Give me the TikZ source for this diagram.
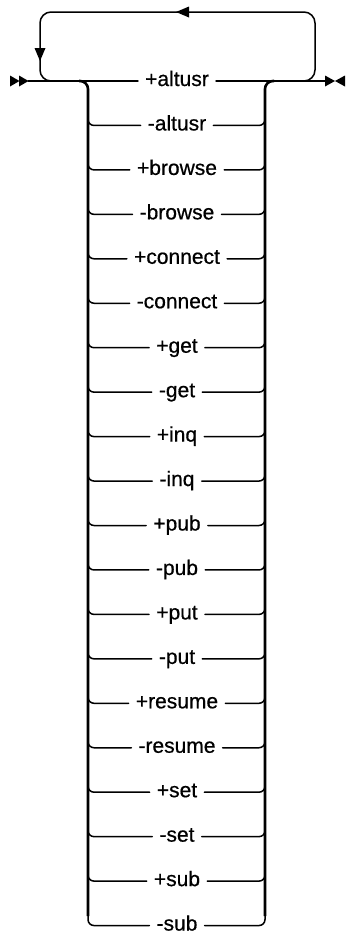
\documentclass[tikz,border=0pt]{standalone}
\usepackage{fontspec}
\setmainfont{Liberation Sans}[FakeBold=0.6]
\usetikzlibrary{calc}

\begin{document}
\begin{tikzpicture}[x=1pt, y=-1pt,
    rail/.style={line width=1.5pt, line cap=round},
    bar/.style={line width=2.6pt},
    opt/.style={font=\fontsize{21}{24}\selectfont, inner sep=7pt, text height=12pt, text depth=2pt}]
    \useasboundingbox (0,0) rectangle (346,935);

    % Options, one per row
    \foreach \lbl [count=\i from 0] in {+altusr,-altusr,+browse,-browse,+connect,-connect,+get,-get,+inq,-inq,+pub,-pub,+put,-put,+resume,-resume,+set,-set,+sub,-sub} {
        \pgfmathsetmacro{\y}{81+44.45*\i}
        \node[opt] (o\i) at (177,\y) {\lbl};
    }

    % Ends of the main line
    \coordinate (start) at (28,81);
    \coordinate (end) at (325,81);
    \fill (10,75.5) -- (19.5,81) -- (10,86.5) -- cycle;
    \fill (19,75.5) -- (28.5,81) -- (19,86.5) -- cycle;
    \fill (325,75.5) -- (335,81) -- (325,86.5) -- cycle;
    \fill (345,75.5) -- (335,81) -- (345,86.5) -- cycle;

    % Main line
    \draw[rail] (start) -- (o0.west);
    \draw[rail] (o0.east) -- (end);

    % Repeat loop
    \draw[rail, rounded corners=11pt] (302,81) -| (315,12) -| (40,81) -- (58,81);
    \fill (176,12) -- (189,6.5) -- (189,17.5) -- cycle;
    \fill (40,61) -- (34.5,48) -- (45.5,48) -- cycle;

    % Side bars
    \draw[bar, rounded corners=8pt] (79,81) -| (88,916);
    \draw[bar, rounded corners=8pt] (274,81) -| (265,916);

    % Branches into the bars
    \foreach \i in {1,...,19} {
        \pgfmathsetmacro{\y}{81+44.45*\i}
        \draw[rail, rounded corners=6pt] (88,\y-14) |- (o\i.west);
        \draw[rail, rounded corners=6pt] (o\i.east) -| (265,\y-14);
    }
\end{tikzpicture}
\end{document}
